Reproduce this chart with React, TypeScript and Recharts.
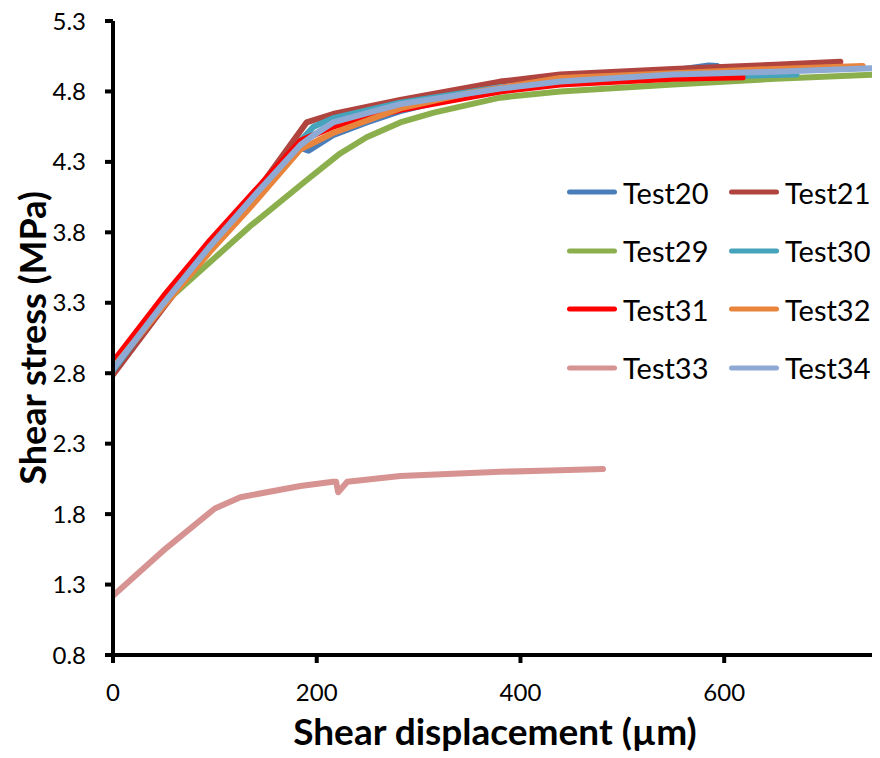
import React from 'react';
import { LineChart, Line, XAxis, YAxis, Legend, Label } from 'recharts';

const xTicks: number[] = [0, 200, 400, 600];
const yTicks: number[] = [0.8, 1.3, 1.8, 2.3, 2.8, 3.3, 3.8, 4.3, 4.8, 5.3];

const test20: [number, number][] = [
  [0, 2.82], [50, 3.28], [95, 3.68], [140, 4.05], [170, 4.3], [184, 4.4], [192, 4.38], [216, 4.49],
  [249, 4.58], [282, 4.66], [350, 4.78], [430, 4.87], [500, 4.93], [560, 4.96], [585, 4.985], [593, 4.98],
];
const test21: [number, number][] = [
  [0, 2.79], [50, 3.27], [95, 3.69], [144, 4.12], [177, 4.45], [190, 4.58], [216, 4.64], [282, 4.74],
  [380, 4.87], [439, 4.92], [550, 4.96], [650, 4.99], [714, 5.01],
];
const test29: [number, number][] = [
  [0, 2.86], [43, 3.25], [134, 3.84], [190, 4.17], [223, 4.36], [249, 4.475], [282, 4.58],
  [315, 4.65], [380, 4.756], [439, 4.8], [550, 4.85], [650, 4.89], [750, 4.92],
];
const test30: [number, number][] = [
  [0, 2.82], [50, 3.3], [95, 3.7], [140, 4.08], [184, 4.45], [197, 4.55], [216, 4.61], [282, 4.72],
  [380, 4.83], [450, 4.87], [550, 4.9], [671, 4.92],
];
const test31: [number, number][] = [
  [0, 2.88], [50, 3.35], [95, 3.74], [140, 4.1], [184, 4.45], [216, 4.55], [282, 4.67], [380, 4.8],
  [439, 4.85], [550, 4.89], [618, 4.9],
];
const test32: [number, number][] = [
  [0, 2.84], [50, 3.28], [95, 3.66], [140, 4.02], [184, 4.39], [216, 4.505], [282, 4.68], [350, 4.79],
  [439, 4.895], [550, 4.93], [650, 4.96], [736, 4.98],
];
const test33: [number, number][] = [
  [0, 1.22], [52, 1.557], [100, 1.84], [125, 1.92], [184, 2.0], [216, 2.03], [219, 2.03],
  [221, 1.955], [230, 2.03], [282, 2.07], [380, 2.1], [430, 2.11], [481, 2.12],
];
const test34: [number, number][] = [
  [0, 2.83], [50, 3.3], [95, 3.7], [140, 4.07], [184, 4.42], [197, 4.49], [216, 4.58], [282, 4.71],
  [380, 4.82], [439, 4.87], [550, 4.92], [650, 4.94], [748, 4.965],
];

const seriesNames: string[] = ['Test20', 'Test21', 'Test29', 'Test30', 'Test31', 'Test32', 'Test33', 'Test34'];
const seriesColors: string[] = ['#4A7EBB', '#B0443F', '#8CAF4E', '#45A3BC', '#FF0000', '#E8843C', '#D69391', '#8EAAD4'];
const seriesPoints: [number, number][][] = [test20, test21, test29, test30, test31, test32, test33, test34];

const FONT = 'Lato, "Open Sans", sans-serif';

const renderLegend = (props: any) => {
  const items: any[] = props.payload || [];
  return (
    <div
      style={{
        display: 'grid',
        gridTemplateColumns: '162px 162px',
        gridAutoRows: '58.5px',
        fontFamily: FONT,
        fontSize: 29,
        color: '#000',
      }}
    >
      {items.map((it) => (
        <div key={it.value} style={{ display: 'flex', alignItems: 'center' }}>
          <svg width={54} height={8} style={{ display: 'block' }}>
            <line x1={4.5} y1={4} x2={49.5} y2={4} stroke={it.color} strokeWidth={5} strokeLinecap="round" />
          </svg>
          <span style={{ marginLeft: 4, lineHeight: 1 }}>{it.value}</span>
        </div>
      ))}
    </div>
  );
};

const YTitle = (props: any) => {
  const vb = props.viewBox || { x: 0, y: 0, width: 0, height: 0 };
  const cx = vb.x + 25;
  const cy = vb.y + vb.height / 2;
  return (
    <text
      x={cx}
      y={cy}
      dy="0.36em"
      transform={`rotate(-90 ${cx} ${cy})`}
      textAnchor="middle"
      fontFamily={FONT}
      fontWeight={700}
      fontSize={36}
      fill="#000"
    >
      Shear stress (MPa)
    </text>
  );
};

export default function App() {
  return (
    <LineChart width={872} height={750} margin={{ top: 13, right: 3, bottom: 0, left: 0 }}>
      <XAxis
        type="number"
        dataKey="x"
        domain={[0, 750]}
        ticks={xTicks}
        allowDataOverflow
        height={103}
        axisLine={{ stroke: '#000', strokeWidth: 4 }}
        tickLine={{ stroke: '#000', strokeWidth: 4 }}
        tickSize={8}
        tickMargin={21}
        tick={{ fill: '#000', fontFamily: FONT, fontSize: 24 }}
      >
        <Label
          value="Shear displacement (µm)"
          position="insideBottom"
          offset={13}
          style={{ fontFamily: FONT, fontWeight: 700, fontSize: 37, fill: '#000' }}
        />
      </XAxis>
      <YAxis
        type="number"
        dataKey="y"
        domain={[0.8, 5.3]}
        ticks={yTicks}
        allowDataOverflow
        width={105}
        axisLine={{ stroke: '#000', strokeWidth: 4 }}
        tickLine={{ stroke: '#000', strokeWidth: 4 }}
        tickSize={8}
        tickMargin={19}
        tickFormatter={(v: number) => v.toFixed(1)}
        tick={{ fill: '#000', fontFamily: FONT, fontSize: 24 }}
      >
        <Label content={YTitle} />
      </YAxis>
      <Legend
        layout="horizontal"
        verticalAlign="middle"
        align="center"
        content={renderLegend}
        wrapperStyle={{ position: 'absolute', left: 557, top: 155, width: 330 }}
      />
      {seriesNames.map((name, i) => (
        <Line
          key={name}
          name={name}
          type="linear"
          data={seriesPoints[i].map(([x, y]) => ({ x, y }))}
          dataKey="y"
          stroke={seriesColors[i]}
          strokeWidth={6}
          strokeLinejoin="round"
          strokeLinecap="round"
          dot={false}
          activeDot={false}
          isAnimationActive={false}
        />
      ))}
    </LineChart>
  );
}
